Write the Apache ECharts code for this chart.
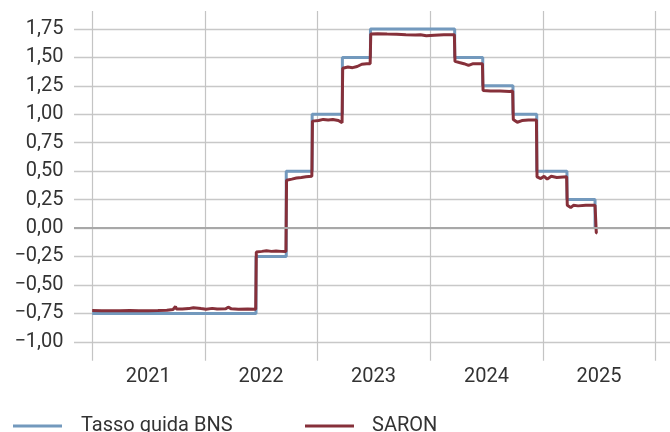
<!DOCTYPE html>
<html>
<head>
<meta charset="utf-8">
<script src="https://cdn.jsdelivr.net/npm/echarts@6/dist/echarts.min.js"></script>
<style>
  html, body { margin: 0; padding: 0; background: #fff; }
  #chart { width: 670px; height: 432px; }
</style>
</head>
<body>
<div id="chart"></div>
<script>
// Tasso guida BNS: date di cambiamento e nuovo livello
const policyDates = ['2021-01-01', '2022-06-16', '2022-09-22', '2022-12-15', '2023-03-23', '2023-06-22',
  '2024-03-21', '2024-06-20', '2024-09-26', '2024-12-12', '2025-03-20', '2025-06-19'];
const policyValues = [-0.75, -0.25, 0.50, 1.00, 1.50, 1.75, 1.50, 1.25, 1.00, 0.50, 0.25, 0.00];

// SARON
const saronDates = [
  '2021-01-01', '2021-02-01', '2021-03-01', '2021-04-01', '2021-05-03', '2021-06-01', '2021-07-01', '2021-08-02',
  '2021-08-31', '2021-09-20', '2021-09-28', '2021-10-01', '2021-10-20', '2021-11-10', '2021-11-25', '2021-12-01',
  '2021-12-20', '2022-01-05', '2022-01-25', '2022-02-10', '2022-03-10', '2022-03-18', '2022-03-28', '2022-04-20',
  '2022-05-20', '2022-06-15', '2022-06-17', '2022-06-22', '2022-07-05', '2022-07-20', '2022-08-05', '2022-08-20',
  '2022-09-05', '2022-09-21', '2022-09-23', '2022-10-10', '2022-10-25', '2022-11-10', '2022-11-25', '2022-12-14',
  '2022-12-16', '2023-01-05', '2023-01-20', '2023-02-05', '2023-02-20', '2023-03-10', '2023-03-22', '2023-03-24',
  '2023-04-10', '2023-04-25', '2023-05-10', '2023-05-25', '2023-06-10', '2023-06-21', '2023-06-23', '2023-07-15',
  '2023-08-15', '2023-09-15', '2023-10-15', '2023-11-15', '2023-12-01', '2023-12-20', '2024-01-15', '2024-02-15',
  '2024-03-20', '2024-03-22', '2024-04-05', '2024-04-20', '2024-05-05', '2024-05-20', '2024-06-19', '2024-06-21',
  '2024-07-15', '2024-08-15', '2024-09-15', '2024-09-25', '2024-09-27', '2024-10-10', '2024-10-25', '2024-11-15',
  '2024-12-11', '2024-12-13', '2024-12-25', '2025-01-05', '2025-01-15', '2025-01-28', '2025-02-15', '2025-03-19',
  '2025-03-21', '2025-04-01', '2025-04-10', '2025-04-25', '2025-05-20', '2025-06-19', '2025-06-23', '2025-06-27'
];
const saronValues = [
  -0.725, -0.727, -0.726, -0.727, -0.725, -0.727, -0.726, -0.724,
  -0.722, -0.715, -0.690, -0.712, -0.712, -0.708, -0.700, -0.712,
  -0.708, -0.713, -0.706, -0.712, -0.710, -0.695, -0.710, -0.713,
  -0.712, -0.713, -0.210, -0.195, -0.205, -0.200, -0.205, -0.202,
  -0.205, -0.207, 0.420, 0.430, 0.440, 0.445, 0.450, 0.455,
  0.940, 0.945, 0.955, 0.950, 0.955, 0.945, 0.925, 1.405,
  1.415, 1.410, 1.420, 1.440, 1.445, 1.445, 1.705, 1.708,
  1.705, 1.703, 1.700, 1.698, 1.700, 1.690, 1.695, 1.700,
  1.700, 1.465, 1.455, 1.445, 1.430, 1.445, 1.445, 1.210,
  1.205, 1.205, 1.200, 1.205, 0.955, 0.930, 0.945, 0.950,
  0.950, 0.450, 0.435, 0.455, 0.430, 0.455, 0.445, 0.450,
  0.200, 0.180, 0.200, 0.195, 0.200, 0.200, -0.040, -0.045
];

// assi
const yTicks = [-1, -0.75, -0.5, -0.25, 0, 0.25, 0.5, 0.75, 1, 1.25, 1.5, 1.75];
const years = [2021, 2022, 2023, 2024, 2025];

function day(s) {
  const p = s.split('-');
  return new Date(+p[0], +p[1] - 1, +p[2]).getTime();
}
const yearLines = years.concat([2026]).map(y => new Date(y, 0, 1).getTime());
const yearLabels = years.map(y => new Date(y, 6, 2).getTime());

const FONT = 'Roboto';
const chart = echarts.init(document.getElementById('chart'));
chart.setOption({
  animation: false,
  grid: { left: 74, right: 0, top: 11, bottom: 71.3, containLabel: false },
  legend: [{
    left: 8, top: 411,
    icon: 'rect', itemWidth: 49, itemHeight: 3,
    data: ['Tasso guida BNS'],
    textStyle: { fontFamily: FONT, fontSize: 20, color: '#333', padding: [0, 0, 0, 14] }
  }, {
    left: 300, top: 411,
    icon: 'rect', itemWidth: 49, itemHeight: 3,
    data: ['SARON'],
    textStyle: { fontFamily: FONT, fontSize: 20, color: '#333', padding: [0, 0, 0, 13] }
  }],
  xAxis: {
    type: 'value',
    min: day('2020-11-03'),
    max: day('2026-02-17'),
    axisLine: { show: false },
    axisTick: { show: false, customValues: yearLines },
    splitLine: { show: true, lineStyle: { color: '#c4c4c4', width: 1.2 } },
    axisLabel: {
      customValues: yearLabels,
      margin: 6,
      fontFamily: FONT, fontSize: 20, color: '#333',
      formatter: v => String(new Date(v).getFullYear())
    }
  },
  yAxis: {
    type: 'value',
    min: -1.166,
    max: 1.908,
    axisLine: { show: false },
    axisTick: { show: false, customValues: yTicks },
    splitLine: { show: true, lineStyle: { color: '#c8c8c8', width: 1.4 } },
    axisLabel: {
      customValues: yTicks,
      margin: 10.5,
      fontFamily: FONT, fontSize: 20, color: '#333',
      formatter: v => (v < 0 ? '\u2212' : '') + Math.abs(v).toFixed(2).replace('.', ',')
    }
  },
  series: [{
    name: 'Tasso guida BNS',
    type: 'line',
    step: 'end',
    showSymbol: false,
    color: '#7399bd',
    lineStyle: { width: 3, color: '#7399bd' },
    data: policyDates.map((d, i) => [day(d), policyValues[i]]),
    markLine: {
      silent: true,
      symbol: 'none',
      label: { show: false },
      lineStyle: { type: 'solid', color: '#a8a8a8', width: 2 },
      data: [{ yAxis: 0 }]
    },
    z: 2
  }, {
    name: 'SARON',
    type: 'line',
    showSymbol: false,
    color: '#86303a',
    lineStyle: { width: 3, color: '#86303a' },
    data: saronDates.map((d, i) => [day(d), saronValues[i]]),
    z: 3
  }]
});
</script>
</body>
</html>
